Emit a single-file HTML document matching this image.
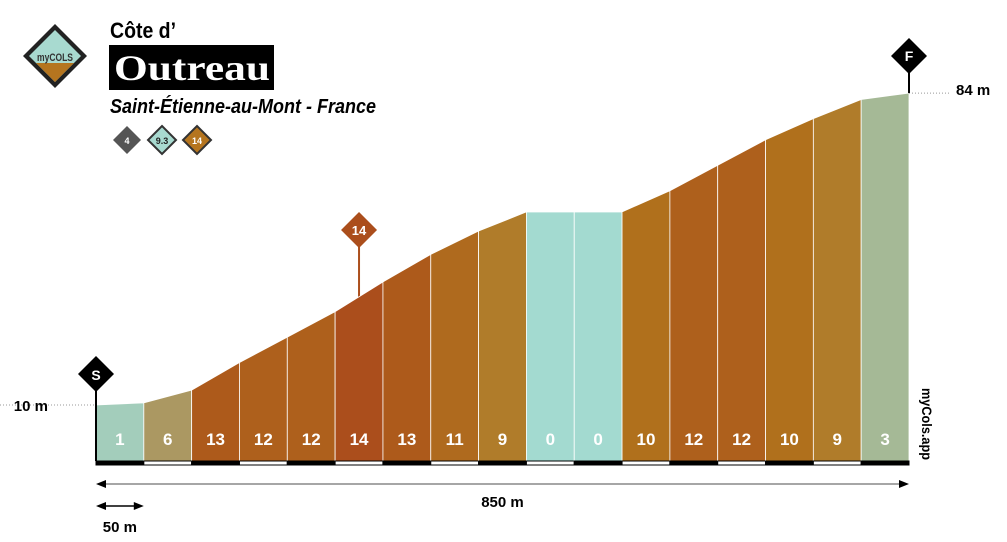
<!DOCTYPE html>
<html><head><meta charset="utf-8"><style>
body{margin:0;background:#fff;width:1007px;height:537px;overflow:hidden;font-family:"Liberation Sans Narrow","Liberation Sans",sans-serif}
svg text{font-family:"Liberation Sans Narrow","Liberation Sans",sans-serif;font-weight:bold}
</style></head><body>
<svg id="c" width="1007" height="537" viewBox="0 0 1007 537">
 <g>
  <polygon points="55,24 87,56 55,88 23,56" fill="#222" />
  <polygon points="55,30 81,56 55,82 29,56" fill="#a8dad0" />
  <polygon points="36,63 74,63 55,82" fill="#b5751f" />
  <text x="55" y="61" font-size="11" text-anchor="middle" fill="#333" textLength="36" lengthAdjust="spacingAndGlyphs">myCOLS</text>
 </g>
 <text x="110" y="38" font-size="22" fill="#000" textLength="66" lengthAdjust="spacingAndGlyphs">Côte d’</text>
 <rect x="109" y="45" width="165" height="45" fill="#000"/>
 <text x="114" y="80" font-size="36" fill="#fff" textLength="156" lengthAdjust="spacingAndGlyphs" style="font-family:'Liberation Serif',serif;font-weight:bold">Outreau</text>
 <text x="110" y="113" font-size="20" font-style="italic" fill="#000" textLength="266" lengthAdjust="spacingAndGlyphs">Saint-Étienne-au-Mont - France</text>
 <g>
  <polygon points="127,126 141,140 127,154 113,140" fill="#555"/><text x="127" y="144" font-size="9" fill="#fff" text-anchor="middle">4</text>
  <polygon points="162,126 176,140 162,154 148,140" fill="#a8dad0" stroke="#333" stroke-width="2"/><text x="162" y="144" font-size="9" fill="#222" text-anchor="middle">9.3</text>
  <polygon points="197,126 211,140 197,154 183,140" fill="#b5751f" stroke="#333" stroke-width="2"/><text x="197" y="144" font-size="9" fill="#fff" text-anchor="middle">14</text>
 </g>
 <g id="plot"></g>
</svg>
<script>
const segLength = 50;
const gradients = [1,6,13,12,12,14,13,11,9,0,0,10,12,12,10,9,3];
const startElev = 10;
const distLabel = "850 m";

const x0=96,x1=909,baseY=461,y10=405,y84=91;
const xs=d=>x0+(x1-x0)*d/(gradients.length*segLength);
const ys=e=>y10+(e-10)*(y84-y10)/(84-10);
function col(g){
 if(g<=0) return '#a3dad0';
 if(g<=2) return '#a3cdbb';
 if(g<=4) return '#a5b996';
 if(g<=7) return '#ab9862';
 if(g<=9) return '#b07c2a';
 if(g<=10) return '#b0701c';
 if(g<=11) return '#af6a1e';
 if(g<=12) return '#ae601c';
 if(g<=13) return '#ad5a1b';
 return '#ab4e1c';
}
const NS='http://www.w3.org/2000/svg';
const plot=document.getElementById('plot');
function mk(t,a,p){const e=document.createElementNS(NS,t);for(const k in a)e.setAttribute(k,a[k]);(p||plot).appendChild(e);return e;}
let elev=startElev;const elevs=[elev];
gradients.forEach(g=>{elev+=g*segLength/100;elevs.push(elev);});
let maxI=0;gradients.forEach((g,i)=>{if(g>gradients[maxI])maxI=i;});
let l=mk('line',{x1:0,y1:ys(elevs[0]),x2:x0,y2:ys(elevs[0]),stroke:'#999','stroke-dasharray':'1,2'});


l=mk('line',{x1:x1,y1:ys(elevs[elevs.length-1]),x2:950,y2:ys(elevs[elevs.length-1]),stroke:'#999','stroke-dasharray':'1,2'});


let t=mk('text',{x:48,y:ys(elevs[0])+6,'font-size':15,'text-anchor':'end'});t.textContent=Math.round(elevs[0])+' m';


t=mk('text',{x:956,y:ys(elevs[elevs.length-1])+2,'font-size':15});t.textContent=Math.round(elevs[elevs.length-1])+' m';


{const mx=(xs(maxI*segLength)+xs((maxI+1)*segLength))/2,my=(ys(elevs[maxI])+ys(elevs[maxI+1]))/2;
 mk('line',{x1:mx,y1:my,x2:mx,y2:240,stroke:'#ab4e1c','stroke-width':2});
 const p=mk('polygon',{points:`${mx},212 ${mx+18},230 ${mx},248 ${mx-18},230`,fill:'#ab4e1c'});
 
 
 const tt=mk('text',{x:mx,y:235,'font-size':13,fill:'#fff','text-anchor':'middle'});tt.textContent=gradients[maxI];}
gradients.forEach((g,i)=>{
 const xa=xs(i*segLength),xb=xs((i+1)*segLength);
 const p=mk('polygon',{points:`${xa},${baseY} ${xa},${ys(elevs[i])} ${xb},${ys(elevs[i+1])} ${xb},${baseY}`,fill:col(g),stroke:'#fff','stroke-width':0.8});
 
 
 const tx=mk('text',{x:(xa+xb)/2,y:445,'font-size':17,fill:'#fff','text-anchor':'middle'});tx.textContent=g;
 
 
 const r=mk('rect',{x:xa,y:baseY,width:xb-xa,height:4,fill:i%2?'#fff':'#000',stroke:'#000','stroke-width':1});
 
 
});
mk('line',{x1:x0,y1:385,x2:x0,y2:baseY,stroke:'#000','stroke-width':2});
let s=mk('polygon',{points:`${x0},356 ${x0+18},374 ${x0},392 ${x0-18},374`,fill:'#000'});


t=mk('text',{x:x0,y:380,'font-size':14,fill:'#fff','text-anchor':'middle'});t.textContent='S';
mk('line',{x1:x1,y1:60,x2:x1,y2:ys(elevs[elevs.length-1]),stroke:'#000','stroke-width':2});
s=mk('polygon',{points:`${x1},38 ${x1+18},56 ${x1},74 ${x1-18},56`,fill:'#000'});


t=mk('text',{x:x1,y:61,'font-size':14,fill:'#fff','text-anchor':'middle'});t.textContent='F';
t=mk('text',{x:922,y:388,'font-size':14,transform:'rotate(90 922 388)',textLength:72,lengthAdjust:'spacingAndGlyphs'});t.textContent='myCols.app';


mk('line',{x1:x0+4,y1:484,x2:x1-4,y2:484,stroke:'#888','stroke-width':1.5});
mk('polygon',{points:`${x0},484 ${x0+10},480 ${x0+10},488`,fill:'#000'});
mk('polygon',{points:`${x1},484 ${x1-10},480 ${x1-10},488`,fill:'#000'});
t=mk('text',{x:(x0+x1)/2,y:507,'font-size':15,'text-anchor':'middle'});t.textContent=distLabel;


const xe=xs(segLength);
mk('line',{x1:x0+4,y1:506,x2:xe-4,y2:506,stroke:'#000','stroke-width':1.5});
mk('polygon',{points:`${x0},506 ${x0+10},502 ${x0+10},510`,fill:'#000'});
mk('polygon',{points:`${xe},506 ${xe-10},502 ${xe-10},510`,fill:'#000'});
t=mk('text',{x:(x0+xe)/2,y:532,'font-size':15,'text-anchor':'middle'});t.textContent=segLength+' m';


</script>
</body></html>
